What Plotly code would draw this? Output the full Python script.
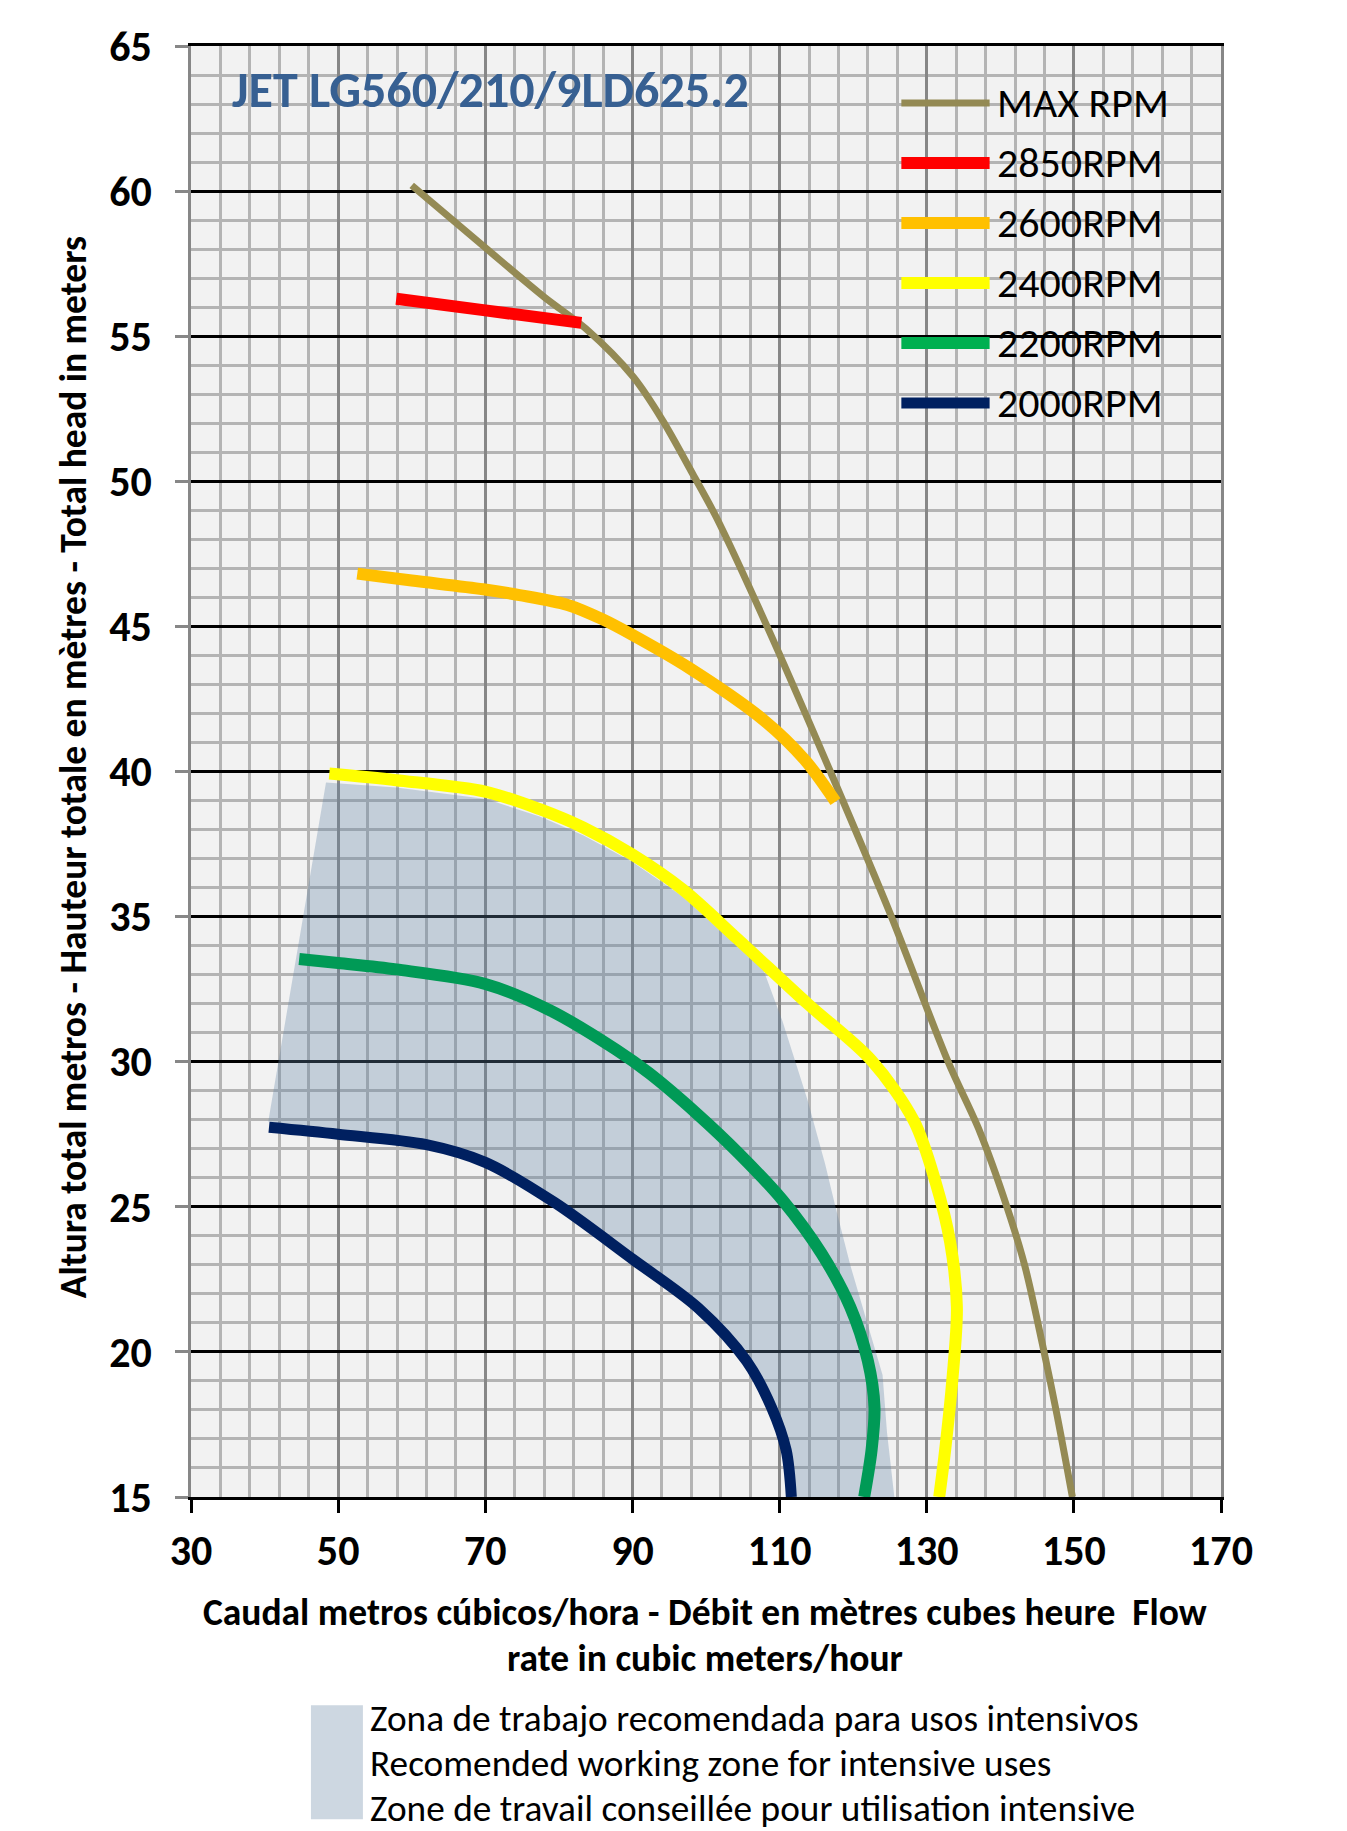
import plotly.graph_objects as go

# Curvas caudal (m3/h) - altura (m)
max_x = [60.0, 70.0, 78.0, 83.7, 90.1, 94.1, 98.2, 101.4, 108.3, 116.9, 125.2, 132.9, 137.2, 140.9, 143.3, 145.7, 147.7, 149.8]
max_y = [60.2, 58.05, 56.35, 55.25, 53.6, 52.1, 50.25, 48.76, 45.0, 40.0, 35.0, 30.0, 27.6, 25.0, 23.0, 20.3, 17.84, 15.0]

rpm2850_x = [57.9, 70.0, 83.05]
rpm2850_y = [56.29, 55.89, 55.46]

rpm2600_x = [52.6, 60.0, 69.7, 74.65, 81.2, 85.9, 89.9, 97.7, 108.0, 113.4, 117.6]
rpm2600_y = [46.82, 46.58, 46.28, 46.08, 45.74, 45.25, 44.72, 43.57, 41.74, 40.41, 38.96]

rpm2400_x = [48.8, 57.9, 70.1, 77.4, 83.3, 89.9, 96.8, 104.2, 113.8, 122.5, 128.3, 131.2, 133.2, 134.1, 133.5, 132.5, 131.7]
rpm2400_y = [39.93, 39.7, 39.3, 38.7, 38.07, 37.15, 35.94, 34.25, 32.0, 30.04, 27.94, 25.85, 23.76, 21.55, 19.08, 16.61, 15.0]

rpm2200_x = [44.7, 50.0, 57.9, 70.0, 78.8, 87.8, 92.3, 98.8, 104.5, 110.4, 115.7, 119.6, 122.0, 122.9, 122.5, 121.5]
rpm2200_y = [33.54, 33.4, 33.18, 32.68, 31.77, 30.41, 29.6, 28.2, 26.83, 25.23, 23.39, 21.55, 19.69, 18.1, 16.61, 15.0]

rpm2000_x = [40.6, 50.0, 62.0, 70.0, 79.4, 90.0, 99.0, 105.5, 108.9, 110.9, 111.6]
rpm2000_y = [27.74, 27.5, 27.14, 26.53, 25.15, 23.2, 21.5, 19.69, 18.09, 16.61, 15.0]

# zona de trabajo recomendada (contorno)
zone_x = [40.5, 48.35, 57.9, 70.1, 77.4, 83.3, 89.9, 96.8, 104.2, 107.7, 110.4, 113.8, 116.2, 117.6,
          119.6, 122.0, 124.0, 124.6, 125.6, 111.6, 110.9, 108.9, 105.5, 99.0, 90.0, 79.4, 70.0, 62.0, 50.0]
zone_y = [27.94, 39.62, 39.45, 39.05, 38.45, 37.8, 36.9, 35.7, 34.0, 33.24, 31.39, 28.68, 26.47, 24.99,
          23.0, 20.92, 19.2, 17.23, 15.0, 15.0, 16.61, 18.09, 19.69, 21.5, 23.2, 25.15, 26.53, 27.14, 27.5]

names = ["MAX RPM", "2850RPM", "2600RPM", "2400RPM", "2200RPM", "2000RPM"]
line_colors = ["#948A54", "#FF0000", "#FFC000", "#FFFF00", "#009A56", "#002060"]
legend_colors = ["#948A54", "#FF0000", "#FFC000", "#FFFF00", "#00B050", "#002060"]
widths = [7, 12, 12, 12, 12, 11]

zone_text = ["Zona de trabajo recomendada para usos intensivos",
             "Recomended working zone for intensive uses",
             "Zone de travail conseillée pour utilisation intensive"]

FONT = "Carlito, Lato, sans-serif"

# ventana y area del grafico en pixeles de pantalla (el body tiene 8px de margen)
WIN_W, WIN_H = 1347, 1831
OFF = 8
L, R, T, B = 191, 1221.5, 45.7, 1496.8


def px(x):
    return (x - L) / (R - L)


def py(y):
    return (B - y) / (B - T)


fig = go.Figure()

fig.add_trace(go.Scatter(
    x=zone_x, y=zone_y, mode="lines", fill="toself",
    fillcolor="rgba(100,133,166,0.33)", line=dict(width=0),
    hoverinfo="skip"
))

curves = [(max_x, max_y), (rpm2850_x, rpm2850_y), (rpm2600_x, rpm2600_y),
          (rpm2400_x, rpm2400_y), (rpm2200_x, rpm2200_y), (rpm2000_x, rpm2000_y)]

for (cx, cy), name, color, w in zip(curves, names, line_colors, widths):
    fig.add_trace(go.Scatter(
        x=cx, y=cy, name=name, mode="lines",
        line=dict(color=color, width=w, shape="spline", smoothing=0.9)
    ))

# leyenda superior dibujada a mano
shapes = []
annotations = []
for i, (name, color, w) in enumerate(zip(names, legend_colors, widths)):
    yc = 102.7 + 60 * i
    shapes.append(dict(type="line", xref="paper", yref="paper",
                       x0=px(901.7), x1=px(990), y0=py(yc), y1=py(yc),
                       line=dict(color=color, width=w)))
    annotations.append(dict(xref="paper", yref="paper", x=px(995), y=py(yc),
                            xanchor="left", yanchor="middle", showarrow=False,
                            text=name, font=dict(family=FONT, size=42, color="black")))

# titulo
annotations.append(dict(xref="paper", yref="paper", x=px(230), y=py(89),
                        xanchor="left", yanchor="middle", showarrow=False,
                        text="<b>JET LG560/210/9LD625.2</b>",
                        font=dict(family=FONT, size=50, color="#376092")))

# titulos de ejes
annotations.append(dict(xref="paper", yref="paper", x=px(73), y=py(767),
                        xanchor="center", yanchor="middle", showarrow=False, textangle=-90,
                        text="<b>Altura total metros - Hauteur totale en mètres - Total head in meters</b>",
                        font=dict(family=FONT, size=37.5, color="black")))
annotations.append(dict(xref="paper", yref="paper", x=px(705), y=py(1611.7),
                        xanchor="center", yanchor="middle", showarrow=False,
                        text="<b>Caudal metros cúbicos/hora - Débit en mètres cubes heure  Flow</b>",
                        font=dict(family=FONT, size=37.5, color="black")))
annotations.append(dict(xref="paper", yref="paper", x=px(705), y=py(1658),
                        xanchor="center", yanchor="middle", showarrow=False,
                        text="<b>rate in cubic meters/hour</b>",
                        font=dict(family=FONT, size=37.5, color="black")))

# leyenda de la zona
shapes.append(dict(type="rect", xref="paper", yref="paper",
                   x0=px(311), x1=px(363), y0=py(1819), y1=py(1705),
                   fillcolor="#CDD7E1", line=dict(width=0)))
for i, t in enumerate(zone_text):
    annotations.append(dict(xref="paper", yref="paper", x=px(368), y=py(1718 + 45 * i),
                            xanchor="left", yanchor="middle", showarrow=False,
                            text=t, font=dict(family=FONT, size=37.3, color="black")))

fig.update_layout(
    width=WIN_W - OFF, height=WIN_H - OFF,
    margin=dict(l=L - OFF, r=WIN_W - R, t=T - OFF, b=WIN_H - B, pad=0),
    paper_bgcolor="white",
    plot_bgcolor="#F2F2F2",
    showlegend=False,
    shapes=shapes,
    annotations=annotations,
    font=dict(family=FONT, color="black"),
)

fig.update_xaxes(
    range=[30, 170], tick0=30, dtick=20,
    showgrid=True, gridcolor="#878787", gridwidth=2.5,
    minor=dict(tick0=30, dtick=4, showgrid=True, gridcolor="#B4B4B4", gridwidth=2.5),
    showline=True, linecolor="black", linewidth=3, mirror=True,
    ticks="outside", ticklen=13, tickwidth=3, tickcolor="black",
    tickfont=dict(family=FONT, size=42, color="black", weight="bold"),
    ticklabelstandoff=2, zeroline=False,
)
fig.update_yaxes(
    range=[15, 65], tick0=15, dtick=5,
    showgrid=True, gridcolor="black", gridwidth=3,
    minor=dict(tick0=15, dtick=1, showgrid=True, gridcolor="#B4B4B4", gridwidth=2.5),
    showline=True, linecolor="#878787", linewidth=2.5, mirror=True,
    ticks="outside", ticklen=13, tickwidth=3, tickcolor="#878787",
    tickfont=dict(family=FONT, size=42, color="black", weight="bold"),
    ticklabelstandoff=15, zeroline=False,
)

fig.write_html("out.html")
